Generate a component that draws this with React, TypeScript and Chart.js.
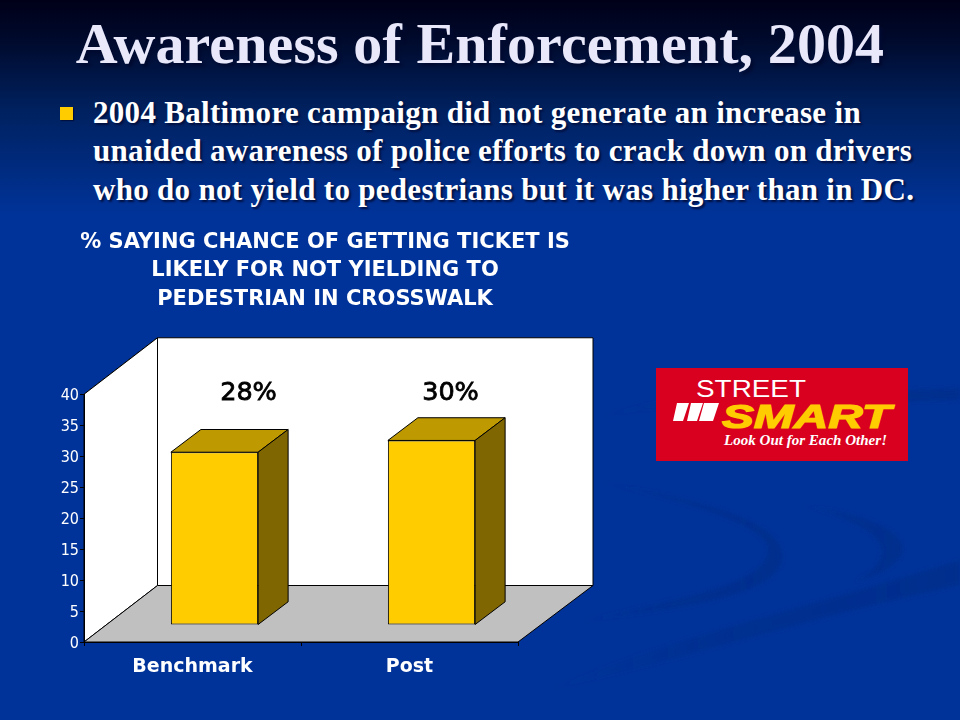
import React, { useEffect, useRef } from "react";
import { Chart, registerables } from "chart.js";

Chart.register(...registerables);

const categories = ["Benchmark", "Post"];
const awareness = [27.9, 29.8];
const yTicksMax = 40;
const yTickStep = 5;
const chartTitle = [
  "% SAYING CHANCE OF GETTING TICKET IS",
  "LIKELY FOR NOT YIELDING TO",
  "PEDESTRIAN IN CROSSWALK",
];
const slideTitle = "Awareness of Enforcement, 2004";
const bulletLines = [
  "2004 Baltimore campaign did not generate an increase in",
  "unaided awareness of police efforts to crack down on drivers",
  "who do not yield to pedestrians but it was higher than in DC.",
];

const WALL_DX_LEFT = 73.5;
const WALL_DX_RIGHT = 75;
const WALL_DY = 56.5;
const BAR_SHIFT_X = 22;
const BAR_SHIFT_Y = 17;
const BAR_DX = 30;
const BAR_DY = 22.7;
const LABEL_DX = [56, 41];
const Y_LABEL_NUDGE = 2;

const poly = (ctx: CanvasRenderingContext2D, pts: number[][], fill: string) => {
  ctx.beginPath();
  pts.forEach(([x, y], i) => (i ? ctx.lineTo(x, y) : ctx.moveTo(x, y)));
  ctx.closePath();
  ctx.fillStyle = fill;
  ctx.fill();
  ctx.lineWidth = 1;
  ctx.strokeStyle = "#000";
  ctx.stroke();
};

const box3d = {
  id: "box3d",
  afterLayout(chart: any) {
    const t = chart.titleBlock;
    if (t) {
      t.left = 0;
      t.right = chart.width;
      t.width = chart.width;
    }
    chart.scales.y.getLabelItems(chart.chartArea).forEach((item: any) => {
      item.options.translation[1] += Y_LABEL_NUDGE;
    });
  },
  beforeDraw(chart: any) {
    const { ctx, chartArea: a } = chart;
    const bl = a.left + WALL_DX_LEFT;
    const br = a.right + WALL_DX_RIGHT;
    ctx.save();
    poly(ctx, [[a.left, a.top], [bl, a.top - WALL_DY], [br, a.top - WALL_DY], [br, a.bottom - WALL_DY], [bl, a.bottom - WALL_DY]], "#fff");
    poly(ctx, [[a.left, a.top], [bl, a.top - WALL_DY], [bl, a.bottom - WALL_DY], [a.left, a.bottom]], "#fff");
    poly(ctx, [[a.left, a.bottom], [bl, a.bottom - WALL_DY], [br, a.bottom - WALL_DY], [a.right, a.bottom]], "#c0c0c0");
    ctx.restore();
  },
  beforeDatasetsDraw(chart: any) {
    const { ctx } = chart;
    ctx.save();
    ctx.translate(BAR_SHIFT_X, -BAR_SHIFT_Y);
    chart.getDatasetMeta(0).data.forEach((bar: any) => {
      const l = bar.x - bar.width / 2;
      const r = bar.x + bar.width / 2;
      poly(ctx, [[l, bar.y], [l + BAR_DX, bar.y - BAR_DY], [r + BAR_DX, bar.y - BAR_DY], [r, bar.y]], "#bf9900");
      poly(ctx, [[r, bar.y], [r + BAR_DX, bar.y - BAR_DY], [r + BAR_DX, bar.base - BAR_DY], [r, bar.base]], "#806600");
    });
  },
  afterDatasetsDraw(chart: any) {
    const { ctx, chartArea: a } = chart;
    ctx.restore();
    ctx.save();
    ctx.font = "25.5px 'DejaVu Sans'";
    ctx.fillStyle = "#000";
    ctx.strokeStyle = "#000";
    ctx.lineWidth = 0.8;
    ctx.textAlign = "center";
    ctx.textBaseline = "alphabetic";
    chart.getDatasetMeta(0).data.forEach((bar: any, i: number) => {
      const s = `${Math.round(awareness[i])}%`;
      ctx.fillText(s, bar.x + LABEL_DX[i], a.top + 6);
      ctx.strokeText(s, bar.x + LABEL_DX[i], a.top + 6);
    });
    ctx.restore();
  },
};

function ChartCanvas() {
  const ref = useRef<HTMLCanvasElement>(null);
  useEffect(() => {
    const chart = new Chart(ref.current!, {
      type: "bar",
      plugins: [box3d],
      data: {
        labels: categories,
        datasets: [
          {
            data: awareness,
            backgroundColor: "#ffcc00",
            borderColor: "#000",
            borderWidth: 1,
            borderSkipped: false,
            barPercentage: 0.402,
            categoryPercentage: 1,
          },
        ],
      },
      options: {
        animation: false,
        responsive: false,
        layout: { padding: { left: 0, right: 132, top: 0, bottom: 0 } },
        plugins: {
          legend: { display: false },
          tooltip: { enabled: false },
          title: {
            display: true,
            text: chartTitle,
            color: "#fff",
            font: { family: "'DejaVu Sans'", size: 21, weight: "bold", lineHeight: 1.36 },
            padding: { top: 8, bottom: 80.6 },
          },
        },
        scales: {
          x: {
            afterFit: (s: any) => { s.height = 78; },
            border: { color: "#000" },
            grid: { drawOnChartArea: false, color: "#000", tickLength: 4, offset: true },
            ticks: { color: "#fff", padding: 10, font: { family: "'DejaVu Sans'", size: 19, weight: "bold" } },
          },
          y: {
            min: 0,
            max: yTicksMax,
            afterFit: (s: any) => { s.width = 84; },
            border: { color: "#000" },
            grid: { drawOnChartArea: false, color: "#000", tickLength: 4 },
            ticks: { stepSize: yTickStep, color: "#fff", padding: 1, font: { family: "'DejaVu Sans Condensed'", size: 16 } },
          },
        },
      },
    } as any);
    return () => chart.destroy();
  }, []);
  return <canvas ref={ref} width={650} height={500} style={{ position: "absolute", left: 0, top: 220 }} />;
}

function Background() {
  return (
    <svg width={960} height={720} style={{ position: "absolute", left: 0, top: 0 }}>
      <defs>
        <filter id="b"><feGaussianBlur stdDeviation="2" /></filter>
        <linearGradient id="fadeL" x1="0" x2="1" y1="0" y2="0">
          <stop offset="0" stopColor="#002e8e" stopOpacity="0" />
          <stop offset="0.45" stopColor="#002e8e" stopOpacity="0.8" />
          <stop offset="1" stopColor="#002e8e" />
        </linearGradient>
      </defs>
      <g filter="url(#b)" fill="url(#fadeL)">
        <path d="M550 690 C 660 640, 800 610, 960 560 L 960 585 C 800 620, 680 660, 550 690 Z" />
        <path d="M580 622 C 660 600, 760 590, 768 552 C 772 525, 680 500, 600 482 C 690 498, 790 520, 782 560 C 775 600, 660 610, 580 622 Z" />
        <path d="M800 505 C 860 512, 905 530, 903 550 C 900 565, 880 575, 855 582 C 875 570, 885 560, 880 545 C 875 530, 840 515, 800 505 Z" />
        <path d="M600 418 C 640 400, 700 395, 780 395 L 960 388 L 960 400 L 780 405 C 700 405, 640 408, 600 418 Z" />
      </g>
    </svg>
  );
}

function Logo() {
  return (
    <svg width={252} height={93} style={{ position: "absolute", left: 656, top: 368 }}>
      <rect width={252} height={93} fill="#d9001f" />
      <text x={40} y={29} fill="#fff" fontFamily="'Liberation Sans'" fontSize={24} textLength={110} lengthAdjust="spacingAndGlyphs">STREET</text>
      <path d="M21 35h12l-6 18H17z M35 35h12l-6 18H31z M48 35h15l-6 18H43z" fill="#fff" />
      <text x={66} y={60} fill="#ffcc00" stroke="#ffcc00" strokeWidth={1.2} fontFamily="'Liberation Sans'" fontWeight="bold" fontStyle="italic" fontSize={33} textLength={169} lengthAdjust="spacingAndGlyphs">SMART</text>
      <text x={68} y={77} fill="#fff" fontFamily="'Liberation Serif'" fontWeight="bold" fontStyle="italic" fontSize={14} textLength={163} lengthAdjust="spacingAndGlyphs">Look Out for Each Other!</text>
    </svg>
  );
}

export default function App() {
  useEffect(() => {
    document.body.style.margin = "0";
    document.body.style.overflow = "hidden";
  }, []);
  const shadow = "2px 2px 2px #001040";
  return (
    <div
      style={{
        position: "absolute",
        left: 0,
        top: 0,
        width: 960,
        height: 720,
        overflow: "hidden",
        background: "linear-gradient(180deg, #000018 0px, #000a2c 40px, #00215f 110px, #003399 215px, #003399 720px)",
      }}
    >
      <Background />
      <div
        style={{
          position: "absolute", left: 0, top: 9, width: 960, textAlign: "center",
          fontFamily: "'Liberation Serif'", fontWeight: "bold", fontSize: 58, letterSpacing: 0.1, lineHeight: "70px",
          color: "#e8e8fa", textShadow: "3px 3px 3px #000a30", whiteSpace: "nowrap",
        }}
      >
        {slideTitle}
      </div>
      <div style={{ position: "absolute", left: 60, top: 107, width: 13, height: 13, background: "#ffcc00", boxShadow: "1px 1px 1px #001040" }} />
      {bulletLines.map((t, i) => (
        <div
          key={t}
          style={{
            position: "absolute", left: 93, top: 93.5 + i * 38.5, lineHeight: "38px", whiteSpace: "nowrap",
            fontFamily: "'Liberation Serif'", fontWeight: "bold", fontSize: 31, letterSpacing: 0.3, color: "#fff", textShadow: shadow,
          }}
        >
          {t}
        </div>
      ))}
      <Logo />
      <ChartCanvas />
    </div>
  );
}
